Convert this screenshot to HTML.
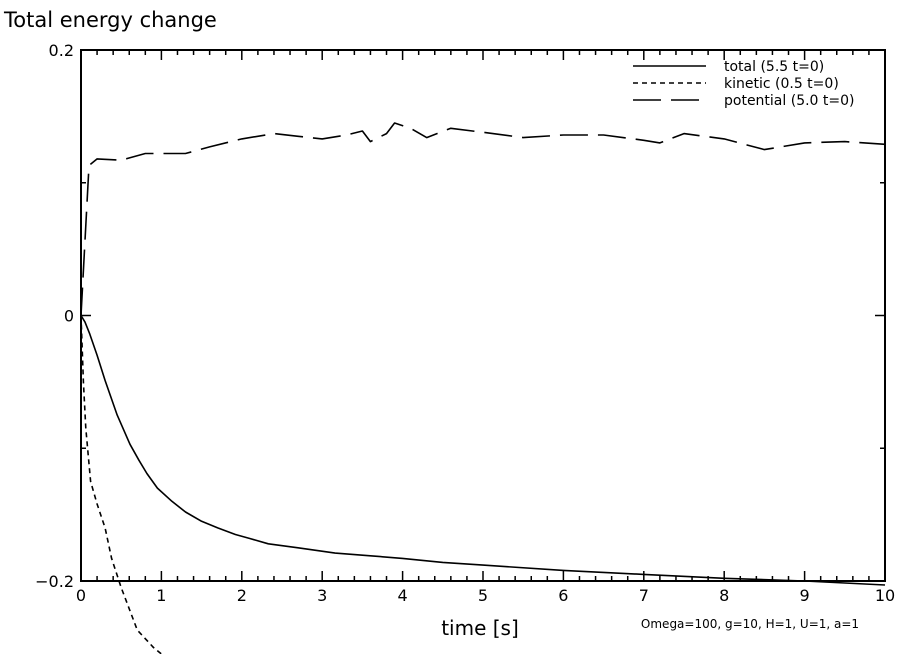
<!DOCTYPE html>
<html><head><meta charset="utf-8"><style>
body{margin:0;background:#fff;}
svg{display:block;font-family:"DejaVu Sans","Liberation Sans",sans-serif;}
</style></head><body>
<svg id="c" width="904" height="654">
<text x="4" y="27" font-size="21">Total energy change</text>
<text x="480" y="635" font-size="20" text-anchor="middle">time [s]</text>
<text x="750" y="628" font-size="12" text-anchor="middle">Omega=100, g=10, H=1, U=1, a=1</text>
<g id="axes"></g>
<g id="series"></g>
<g id="legend"></g>
</svg>
<script>
const timeT=[0,0.1,0.2,0.5,0.8,1,1.3,1.6,2,2.4,2.7,3,3.3,3.5,3.6,3.8,3.9,4.1,4.3,4.6,5,5.5,6,6.5,7,7.2,7.5,8,8.5,9,9.5,10];
const potentialV=[0,0.113,0.118,0.117,0.122,0.122,0.122,0.127,0.133,0.137,0.135,0.133,0.136,0.139,0.131,0.137,0.145,0.141,0.134,0.141,0.138,0.134,0.136,0.136,0.132,0.130,0.137,0.133,0.125,0.130,0.131,0.129];
const totalT=[0,0.05,0.11,0.2,0.3,0.45,0.61,0.72,0.82,0.95,1.13,1.3,1.5,1.7,1.92,2.1,2.33,2.7,3.16,3.6,4,4.5,5,6,7,8,9,10];
const totalV=[0,-0.005,-0.014,-0.03,-0.049,-0.075,-0.097,-0.109,-0.119,-0.13,-0.14,-0.148,-0.155,-0.16,-0.165,-0.168,-0.172,-0.175,-0.179,-0.181,-0.183,-0.186,-0.188,-0.192,-0.195,-0.198,-0.200,-0.203];
const kineticT=[0,0.03,0.06,0.09,0.12,0.2,0.3,0.38,0.5,0.7,0.9,1];
const kineticV=[0,-0.05,-0.085,-0.105,-0.125,-0.142,-0.16,-0.183,-0.205,-0.237,-0.25,-0.255];
const xTicks=[0,1,2,3,4,5,6,7,8,9,10];
const yTicks=[0.2,0,-0.2];
const yTickLabels=["0.2","0","\u22120.2"];
const legendLabels=["total (5.5 t=0)","kinetic (0.5 t=0)","potential (5.0 t=0)"];

const L=81,R=885,T=50,B=581;
const xs=t=>L+(t-0)/10*(R-L);
const ys=v=>T+(0.2-v)/0.4*(B-T);
const NS="http://www.w3.org/2000/svg";
function mk(tag,attrs,parent){const e=document.createElementNS(NS,tag);for(const k in attrs)e.setAttribute(k,attrs[k]);parent.appendChild(e);return e;}
const ax=document.getElementById('axes');
const frame=mk('rect',{x:L,y:T,width:R-L,height:B-T,fill:'none',stroke:'#000','stroke-width':2},ax);


for(let i=0;i<=50;i++){const t=i*0.2,x=xs(t),len=(i%5==0)?10:5;
 mk('line',{x1:x,y1:B,x2:x,y2:B-len,stroke:'#000','stroke-width':1.5},ax);
 mk('line',{x1:x,y1:T,x2:x,y2:T+len,stroke:'#000','stroke-width':1.5},ax);}
for(let i=0;i<=4;i++){const v=0.2-i*0.1,y=ys(v),len=(i%2==0)?10:5;
 mk('line',{x1:L,y1:y,x2:L+len,y2:y,stroke:'#000','stroke-width':1.5},ax);
 mk('line',{x1:R,y1:y,x2:R-len,y2:y,stroke:'#000','stroke-width':1.5},ax);}
xTicks.forEach(t=>{const e=mk('text',{x:xs(t),y:B+20,'font-size':16,'text-anchor':'middle'},ax);e.textContent=String(t);
 
 });
yTicks.forEach((v,i)=>{const e=mk('text',{x:L-7,y:ys(v)+6,'font-size':16,'text-anchor':'end'},ax);e.textContent=yTickLabels[i];
 
 });
const sg=document.getElementById('series');
function line(tv,vv,dash,name){const d=tv.map((t,i)=>(i?'L':'M')+xs(t).toFixed(1)+','+ys(vv[i]).toFixed(1)).join('');
 const p=mk('path',{d:d,fill:'none',stroke:'#000','stroke-width':1.6,'stroke-dasharray':dash,'stroke-linejoin':'round'},sg);
 
 }
line(totalT,totalV,'none','total-line');
line(kineticT,kineticV,'5,4','kinetic-line');
line(timeT,potentialV,'28,10','potential-line');
const lg=document.getElementById('legend');const dashes=['none','5,4','28,10'];
legendLabels.forEach((s,i)=>{const y=66+i*17;
 mk('line',{x1:633,y1:y,x2:706,y2:y,stroke:'#000','stroke-width':1.6,'stroke-dasharray':dashes[i]},lg);
 const e=mk('text',{x:724,y:y+5,'font-size':14},lg);e.textContent=s;
 
 });
</script>
</body></html>
